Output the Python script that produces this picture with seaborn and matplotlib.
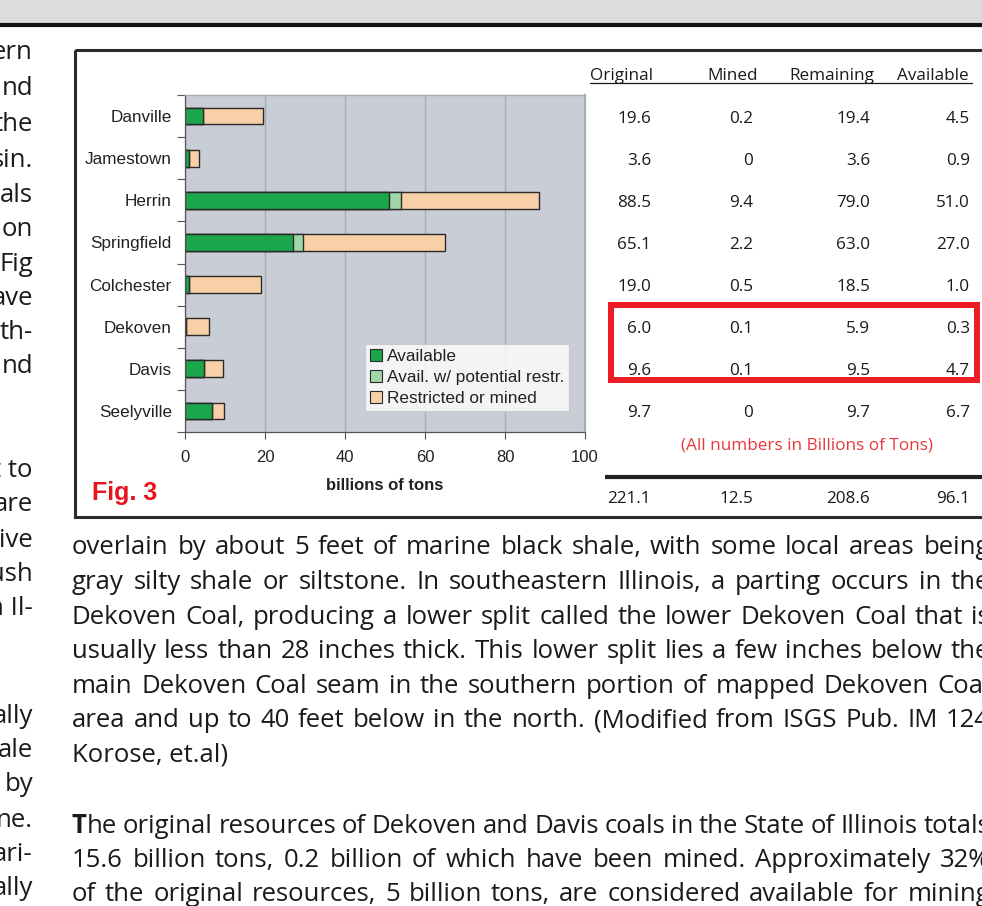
import pandas as pd
import seaborn as sns
import matplotlib.pyplot as plt
from matplotlib.patches import Rectangle, Patch

# coal members, top to bottom (billions of tons)
seams = ["Danville", "Jamestown", "Herrin", "Springfield", "Colchester",
         "Dekoven", "Davis", "Seelyville"]
available = [4.5, 0.9, 51.0, 27.0, 1.0, 0.3, 4.7, 6.7]
avail_restr = [0.0, 0.0, 3.0, 2.5, 0.0, 0.0, 0.0, 0.0]
restricted = [15.1, 2.7, 34.5, 35.6, 18.0, 5.7, 4.9, 3.0]
xticks = [0, 20, 40, 60, 80, 100]

# table next to the chart
col_names = ["Original", "Mined", "Remaining", "Available"]
original = ["19.6", "3.6", "88.5", "65.1", "19.0", "6.0", "9.6", "9.7"]
mined = ["0.2", "0", "9.4", "2.2", "0.5", "0.1", "0.1", "0"]
remaining = ["19.4", "3.6", "79.0", "63.0", "18.5", "5.9", "9.5", "9.7"]
avail_col = ["4.5", "0.9", "51.0", "27.0", "1.0", "0.3", "4.7", "6.7"]
totals = ["221.1", "12.5", "208.6", "96.1"]

# page text around the figure
left_frag = [(52, "ern"), (88, "nd"), (124, "the"), (160, "sin."), (195, "als"),
             (229, "on"), (264, "Fig"), (298, "ave"), (332, "th-"), (366, "nd"),
             (470, "t to"), (504, "are"), (540, "ive"), (574, "ush"), (608, "n Il-"),
             (716, "ally"), (750, "ale"), (784, "by"), (820, "ne."), (854, "ari-"),
             (888, "ally")]
body = [
    (547, "overlain by about 5 feet of marine black shale, with some local areas being"),
    (582, "gray silty shale or siltstone.  In southeastern Illinois, a parting occurs in the"),
    (617, "Dekoven Coal, producing a lower split called the lower Dekoven Coal that is"),
    (651, "usually less than 28 inches thick. This lower split lies a few inches below the"),
    (686, "main Dekoven Coal seam in the southern portion of mapped Dekoven Coal"),
    (720, "area and up to 40 feet below in the north. (Modified from ISGS Pub. IM 124"),
    (860, "15.6 billion tons, 0.2 billion of which have been mined.  Approximately 32%"),
    (894, "of the original resources, 5 billion tons, are considered available for mining"),
]
last_line = (754, "Korose, et.al)")
para2_first = "he original resources of Dekoven and Davis coals in the State of Illinois totals"

green = "#1ba64c"
lgreen = "#a0d6a8"
peach = "#f8d0a8"
edge = "#2a2a2a"
page_font = "Open Sans"
body_size = 18.5
ink = "#1a1a1a"

sns.set_theme(style="white")
plt.rcParams["font.family"] = ["Liberation Sans", "DejaVu Sans"]

fig = plt.figure(figsize=(9.82, 9.06), dpi=100)
renderer = fig.canvas.get_renderer()

# page layer in pixel units, y down
page = fig.add_axes([0, 0, 1, 1])
page.set_xlim(0, 982)
page.set_ylim(906, 0)
page.axis("off")


def justify(y, line, x0, x1):
    words = line.split()
    texts = [page.text(0, y, w, ha="left", va="baseline", family=page_font,
                       fontsize=body_size, color=ink) for w in words]
    widths = [t.get_window_extent(renderer).width for t in texts]
    gap = (x1 - x0 - sum(widths)) / (len(words) - 1)
    x = x0
    for t, w in zip(texts, widths):
        t.set_x(x)
        x += w + gap


page.add_patch(Rectangle((0, 0), 982, 23, facecolor="#dcdcdc", edgecolor="none"))
page.plot([0, 982], [25, 25], color="#111111", lw=3.0, solid_capstyle="butt")
page.add_patch(Rectangle((75, 50), 920, 467, facecolor="none",
                         edgecolor="#2b2b2b", lw=2.2))

for y, s in left_frag:
    page.text(33, y + 7, s, ha="right", va="baseline", family=page_font,
              fontsize=body_size, color=ink)
for y, s in body:
    justify(y + 7, s, 72, 990)
page.text(72, last_line[0] + 7, last_line[1], ha="left", va="baseline",
          family=page_font, fontsize=body_size, color=ink)
t_bold = page.text(72, 826 + 7, "T", ha="left", va="baseline", family=page_font,
                   fontsize=body_size, fontweight="bold", color=ink)
justify(826 + 7, para2_first, 72 + t_bold.get_window_extent(renderer).width, 990)

# table
col_right = [651, 753, 870, 970]
col_left = [590, 707, 789, 897]
for xl, name in zip(col_left, col_names):
    page.text(xl, 80, name, ha="left", va="baseline", family=page_font,
              fontsize=12.3, color=ink)
page.plot([590, 972], [83, 83], color=ink, lw=0.9)
for j, col in enumerate([original, mined, remaining, avail_col]):
    for i, v in enumerate(col):
        page.text(col_right[j], 117 + 42 * i + 6, v, ha="right", va="baseline",
                  family=page_font, fontsize=12.3, color=ink)
page.add_patch(Rectangle((611, 305), 366, 75, facecolor="none",
                         edgecolor="#ec1c24", lw=4.3))
page.text(807, 449, "(All numbers in Billions of Tons)", ha="center", va="baseline",
          family=page_font, fontsize=12.3, color="#e8383d")
page.plot([605, 985], [477, 477], color="#222222", lw=3.0, solid_capstyle="butt")
for j, v in enumerate(totals):
    page.text(col_right[j], 497 + 6, v, ha="right", va="baseline",
              family=page_font, fontsize=12.3, color=ink)

page.text(92, 493, "Fig. 3", ha="left", va="center", fontsize=18,
          fontweight="bold", color="#e8141c")

# chart
ax = fig.add_axes([185 / 982, (906 - 432) / 906, 400 / 982, 337 / 906])
ax.set_facecolor("#c9cdd5")

df = pd.DataFrame({"seam": seams, "available": available,
                   "restr": avail_restr, "restricted": restricted})
df["s1"] = df["available"]
df["s2"] = df["s1"] + df["restr"]
df["s3"] = df["s2"] + df["restricted"]

for col, c in [("s3", peach), ("s2", lgreen), ("s1", green)]:
    sns.barplot(data=df, x=col, y="seam", color=c, saturation=1, width=0.4,
                edgecolor=edge, linewidth=1.0, errorbar=None, ax=ax)

ax.set_xlim(0, 100)
ax.set_ylim(7.5, -0.5)
ax.set_xticks(xticks)
ax.set_xticklabels([str(t) for t in xticks])
ax.set_yticks(range(len(seams)))
ax.set_yticklabels(seams)
ax.set_yticks([i - 0.5 for i in range(len(seams) + 1)], minor=True)
ax.tick_params(axis="y", which="major", length=0, pad=9.5, labelsize=12.3,
               labelcolor="#222222")
ax.tick_params(axis="y", which="minor", length=6, width=0.8, color="#555555",
               direction="out", left=True)
ax.tick_params(axis="x", length=5, width=0.8, color="#555555", direction="out",
               bottom=True, labelsize=12, labelcolor="#222222", pad=8)
ax.set_axisbelow(True)
ax.grid(axis="x", color="#a8acb4", lw=1.0)
ax.grid(axis="y", visible=False)
ax.set_ylabel("")
ax.set_xlabel("billions of tons", fontsize=12, fontweight="bold",
              color="#222222", labelpad=9)

for side in ["left", "bottom"]:
    ax.spines[side].set_color("#555555")
    ax.spines[side].set_linewidth(0.9)
for side in ["top", "right"]:
    ax.spines[side].set_color("#a8abb2")
ax.spines["top"].set_linewidth(1.0)
ax.spines["right"].set_linewidth(1.6)

handles = [Patch(facecolor=green, edgecolor=edge, lw=0.8, label="Available"),
           Patch(facecolor=lgreen, edgecolor=edge, lw=0.8, label="Avail. w/ potential restr."),
           Patch(facecolor=peach, edgecolor=edge, lw=0.8, label="Restricted or mined")]
leg = ax.legend(handles=handles, loc="lower left", bbox_to_anchor=(0.45, 0.062),
                borderaxespad=0, fontsize=12.4, frameon=True, fancybox=False,
                handlelength=0.7, handleheight=0.7, handletextpad=0.25,
                labelspacing=0.33, borderpad=0.3)
leg.get_frame().set_edgecolor("#c4c4c4")
leg.get_frame().set_linewidth(0.8)
for t in leg.get_texts():
    t.set_color("#222222")

fig.savefig("out.png", dpi=100)
